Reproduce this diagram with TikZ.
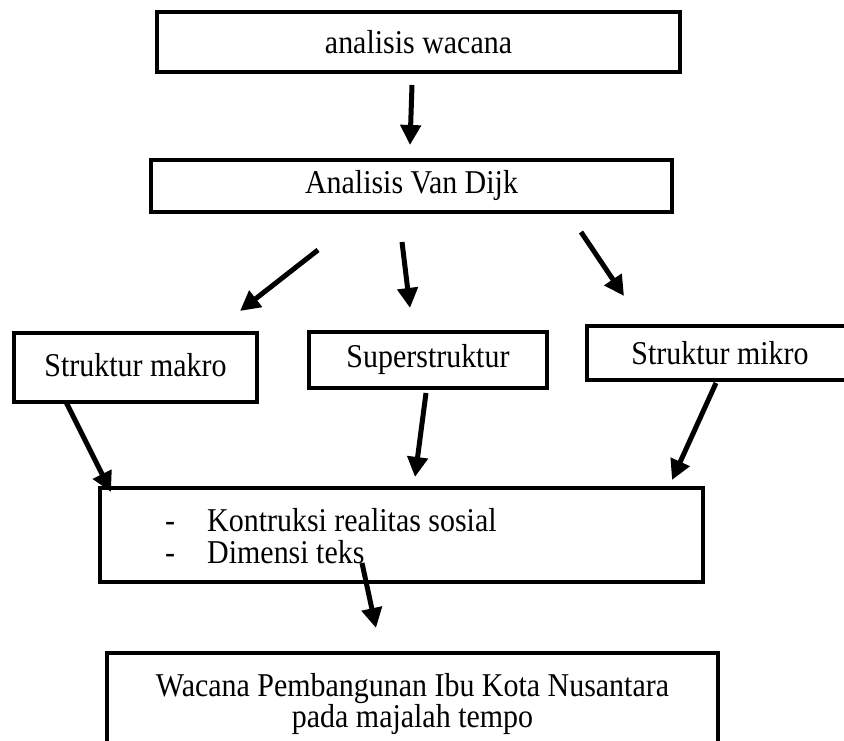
\documentclass[tikz,border=0pt]{standalone}
\usepackage{fontspec}
\setmainfont{Liberation Serif}[FakeStretch=0.9]
\usetikzlibrary{arrows.meta}

\begin{document}
\begin{tikzpicture}[x=1.0cm,y=1.0cm,>={Triangle[length=0.6cm,width=0.6cm]},
  teks/.style={font=\fontsize{28.4}{26.8}\selectfont},
  box/.style={teks,draw,line width=0.12cm,inner sep=0pt,align=center},
  arr/.style={->,line width=0.15cm}]
 \clip (0,0) rectangle (25.32,22.2);
 % kotak
 \node[box,minimum width=15.69cm,minimum height=1.8cm] (wacana) at (12.555,20.94) {analisis wacana};
 \node[box,minimum width=15.63cm,minimum height=1.56cm] (vandijk) at (12.345,16.62) {Analisis Van Dijk};
 \node[box,minimum width=7.29cm,minimum height=2.07cm] (makro) at (4.065,11.175) {\raisebox{0.14cm}{Struktur makro}};
 \node[box,minimum width=7.14cm,minimum height=1.68cm] (super) at (12.84,11.4) {Superstruktur};
 \node[box,minimum width=7.98cm,minimum height=1.62cm] (mikro) at (21.6,11.61) {Struktur mikro};
 \node[box,minimum width=18.09cm,minimum height=2.82cm] (kontruksi) at (12.045,6.15) {};
 \node[teks,anchor=west,align=left,inner sep=0pt] (butir) at (4.95,6.12)
  {\makebox[1.26cm][l]{-}Kontruksi realitas sosial\\\makebox[1.26cm][l]{-}Dimensi teks};
 \node[box,minimum width=18.33cm,minimum height=3.06cm] (tempo) at (12.375,1.08)
  {Wacana Pembangunan Ibu Kota Nusantara\\pada majalah tempo};
 % panah
 \coordinate (p1a) at (12.36,19.65); \coordinate (p1b) at (12.30,17.85);
 \coordinate (p2a) at (9.54,14.70);  \coordinate (p2b) at (7.20,12.87);
 \coordinate (p3a) at (12.06,14.94); \coordinate (p3b) at (12.30,12.96);
 \coordinate (p4a) at (17.43,15.24); \coordinate (p4b) at (18.72,13.32);
 \coordinate (p5a) at (1.98,10.14);  \coordinate (p5b) at (3.33,7.44);
 \coordinate (p6a) at (12.78,10.41); \coordinate (p6b) at (12.45,7.89);
 \coordinate (p7a) at (21.48,10.71); \coordinate (p7b) at (20.16,7.80);
 \coordinate (p8a) at (10.86,5.31);  \coordinate (p8b) at (11.28,3.36);
 \draw[arr] (p1a) -- (p1b);
 \draw[arr] (p2a) -- (p2b);
 \draw[arr] (p3a) -- (p3b);
 \draw[arr] (p4a) -- (p4b);
 \draw[arr] (p5a) -- (p5b);
 \draw[arr] (p6a) -- (p6b);
 \draw[arr] (p7a) -- (p7b);
 \draw[arr] (p8a) -- (p8b);
\end{tikzpicture}
\end{document}
